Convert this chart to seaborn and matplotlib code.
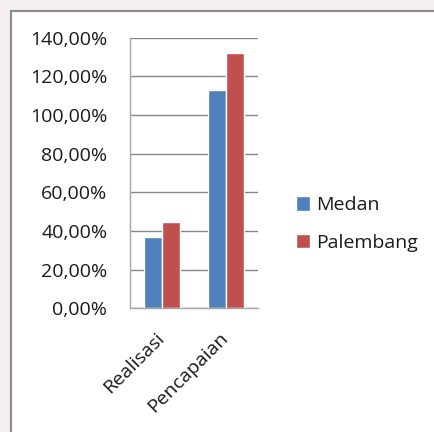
import matplotlib
matplotlib.use("Agg")
import matplotlib.pyplot as plt
import matplotlib.patches as mpatches
import matplotlib.transforms as mtransforms
from matplotlib.ticker import FuncFormatter, MultipleLocator, FixedLocator
import seaborn as sns
import pandas as pd

categories = ["Realisasi", "Pencapaian"]
series = ["Medan", "Palembang"]
medan = [37.0, 112.8]
palembang = [44.7, 132.1]
colors = ["#4F81BD", "#C0504D"]

df = pd.DataFrame({
    "kategori": categories * 2,
    "kota": [series[0]] * 2 + [series[1]] * 2,
    "nilai": medan + palembang,
})

sns.set_style("white")
plt.rcParams["font.family"] = ["Open Sans", "DejaVu Sans"]

fig = plt.figure(figsize=(4.35, 4.32), dpi=100)
fig.patch.set_facecolor("#f4eeee")

# white chart area with grey border (behind the axes)
box = mpatches.Rectangle((11 / 435, -0.1), 1.2, 1.1 - 11 / 432,
                         transform=fig.transFigure, facecolor="white",
                         edgecolor="#8c8c8c", linewidth=1.5, zorder=-10)
fig.add_artist(box)

ax = fig.add_axes([0.298, 0.2863, 0.296, 0.6264])
ax.set_facecolor("none")
ax.set_zorder(5)

sns.barplot(data=df, x="kategori", y="nilai", hue="kota", palette=colors,
            width=0.56, saturation=1, ax=ax, legend=True)

ax.set_ylim(0, 140)
ax.set_xlim(-0.5, 1.5)
ax.yaxis.set_major_locator(MultipleLocator(20))
ax.yaxis.set_major_formatter(FuncFormatter(lambda v, p: f"{v:.2f}%".replace(".", ",")))
ax.yaxis.grid(True, color="#868686", linewidth=1)
ax.set_axisbelow(True)

for s in ["top", "right"]:
    ax.spines[s].set_visible(False)
for s in ["left", "bottom"]:
    ax.spines[s].set_color("#a6a6a6")
    ax.spines[s].set_linewidth(1)

ax.tick_params(axis="y", direction="out", length=6, color="#a6a6a6",
               labelsize=14, labelcolor="#1a1a1a", pad=10)
ax.xaxis.set_major_locator(FixedLocator([-0.5, 0.5, 1.5]))
ax.xaxis.set_minor_locator(FixedLocator([0, 1]))
ax.tick_params(axis="x", which="major", direction="out", length=6,
               color="#a6a6a6", labelbottom=False)
ax.tick_params(axis="x", which="minor", length=0, labelsize=14,
               labelcolor="#1a1a1a", pad=15)
ax.set_xticklabels(categories, minor=True, rotation=45, ha="right",
                   rotation_mode="anchor")
shift = mtransforms.ScaledTranslation(-5 / 72, 0, fig.dpi_scale_trans)
for lbl in ax.get_xticklabels(minor=True):
    lbl.set_transform(lbl.get_transform() + shift)
ax.set_xlabel("")
ax.set_ylabel("")

handles, labels = ax.get_legend_handles_labels()
ax.legend(handles, labels, loc="center left", bbox_to_anchor=(0.680, 0.4815),
          bbox_transform=fig.transFigure, frameon=False, fontsize=14,
          borderpad=0, borderaxespad=0,
          handlelength=0.75, handleheight=0.75, handletextpad=0.3,
          labelspacing=1.0, labelcolor="#1a1a1a")

fig.savefig("out.png", dpi=100, facecolor=fig.get_facecolor())
